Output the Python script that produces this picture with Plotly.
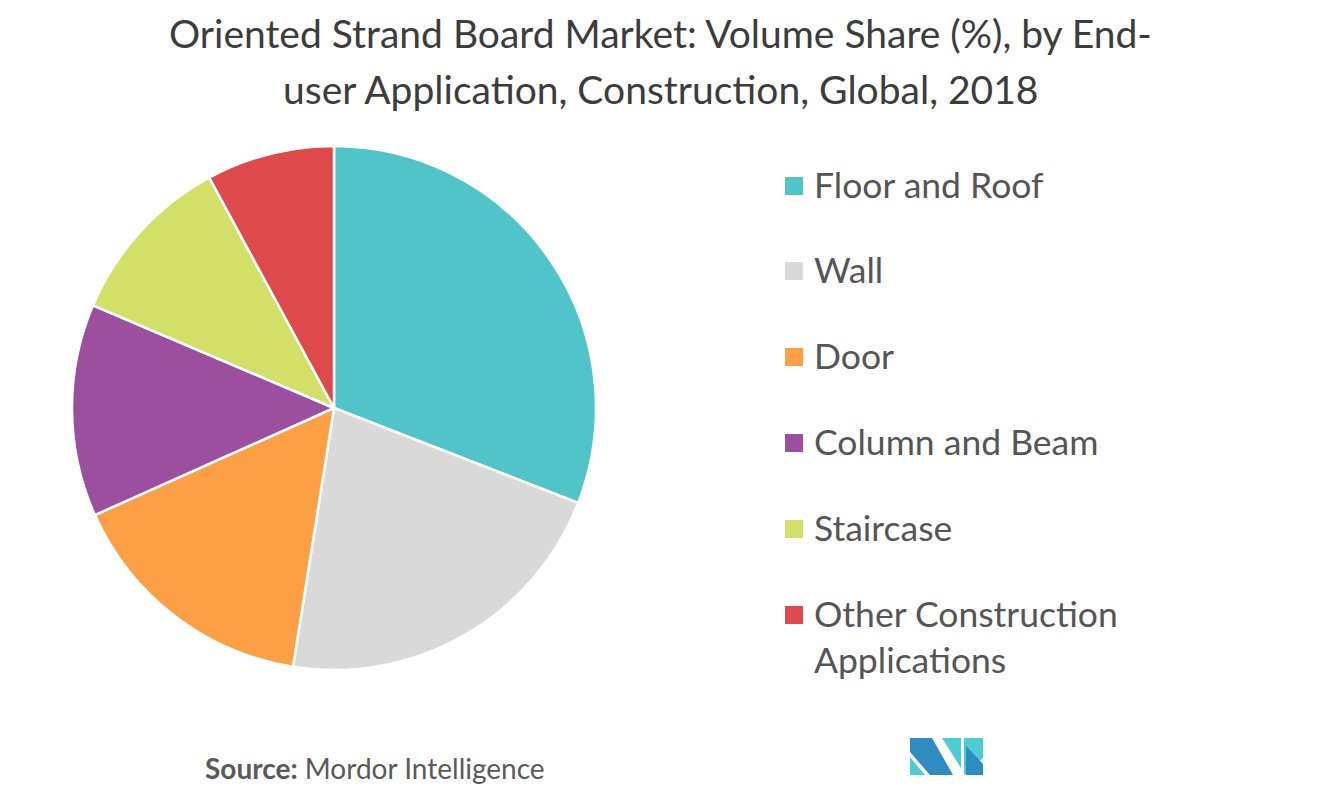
import plotly.graph_objects as go

# ---- data ----
categories = ["Floor and Roof", "Wall", "Door", "Column and Beam", "Staircase",
              "Other Construction Applications"]
legend_labels = ["Floor and Roof", "Wall", "Door", "Column and Beam", "Staircase",
                 "Other Construction<br>Applications"]
shares = [30.9, 21.6, 15.8, 13.1, 10.7, 7.9]
colors = ["#51C4CA", "#D9D9D9", "#FD9F45", "#9C4F9E", "#D2E067", "#DE4A4B"]

W, H = 1322, 803
OFF = 8  # page body margin


def px(x):
    return (x - OFF) / W


def py(y):
    return 1 - (y - OFF) / H


fig = go.Figure()
fig.add_trace(go.Pie(
    labels=categories,
    values=shares,
    sort=False,
    direction="clockwise",
    rotation=0,
    marker=dict(colors=colors, line=dict(color="white", width=2.5)),
    textinfo="none",
    hoverinfo="label+percent",
    showlegend=False,
    domain=dict(x=[px(72), px(596)], y=[py(670), py(146)]),
))

annotations = []
shapes = []

# title
title_font = dict(family="Lato", size=39, color="#3C3C3C")
annotations.append(dict(text="Oriented Strand Board Market: Volume Share (%), by End-",
                        x=px(660), y=py(33), xref="paper", yref="paper",
                        showarrow=False, font=title_font, xanchor="center", yanchor="middle"))
annotations.append(dict(text="user Application, Construction, Global, 2018",
                        x=px(660), y=py(89), xref="paper", yref="paper",
                        showarrow=False, font=title_font, xanchor="center", yanchor="middle"))

# manual legend
row_y = [186, 271, 357, 443, 529, 615]
for lab, col, yy in zip(legend_labels, colors, row_y):
    shapes.append(dict(type="rect", xref="paper", yref="paper",
                       x0=px(785), x1=px(803), y0=py(yy + 9), y1=py(yy - 9),
                       fillcolor=col, line=dict(width=0)))
    annotations.append(dict(text=lab, x=px(812), y=py(yy - 25), xref="paper", yref="paper",
                            showarrow=False, xanchor="left", yanchor="top", align="left",
                            font=dict(family="Lato", size=35.5, color="#555555")))

# source
annotations.append(dict(text="<b>Source:</b> Mordor Intelligence",
                        x=px(203), y=py(768), xref="paper", yref="paper",
                        showarrow=False, xanchor="left", yanchor="middle",
                        font=dict(family="Lato", size=28, color="#5A5A5A")))


# logo
def path(points):
    s = "M " + " L ".join(f"{px(x):.5f},{py(y):.5f}" for x, y in points) + " Z"
    return s


logo_dark = "#2E8CC2"
logo_teal = "#4FCBD3"
shapes.append(dict(type="path", xref="paper", yref="paper", line=dict(width=0),
                   fillcolor=logo_dark,
                   path=path([(910, 738), (932, 738), (953, 775), (930, 775), (910, 752)])))
shapes.append(dict(type="path", xref="paper", yref="paper", line=dict(width=0),
                   fillcolor=logo_teal,
                   path=path([(910, 757), (910, 775), (925, 775)])))
shapes.append(dict(type="path", xref="paper", yref="paper", line=dict(width=0),
                   fillcolor=logo_teal,
                   path=path([(942, 738), (961, 738), (961, 768)])))
shapes.append(dict(type="path", xref="paper", yref="paper", line=dict(width=0),
                   fillcolor=logo_teal,
                   path=path([(964, 738), (983, 738), (983, 758), (964, 775)])))
shapes.append(dict(type="path", xref="paper", yref="paper", line=dict(width=0),
                   fillcolor=logo_dark,
                   path=path([(966, 746), (983, 764), (983, 775), (966, 775)])))

fig.update_layout(
    width=W, height=H,
    margin=dict(l=0, r=0, t=0, b=0),
    paper_bgcolor="white",
    plot_bgcolor="white",
    annotations=annotations,
    shapes=shapes,
    showlegend=False,
)

fig.write_html("out.html")
